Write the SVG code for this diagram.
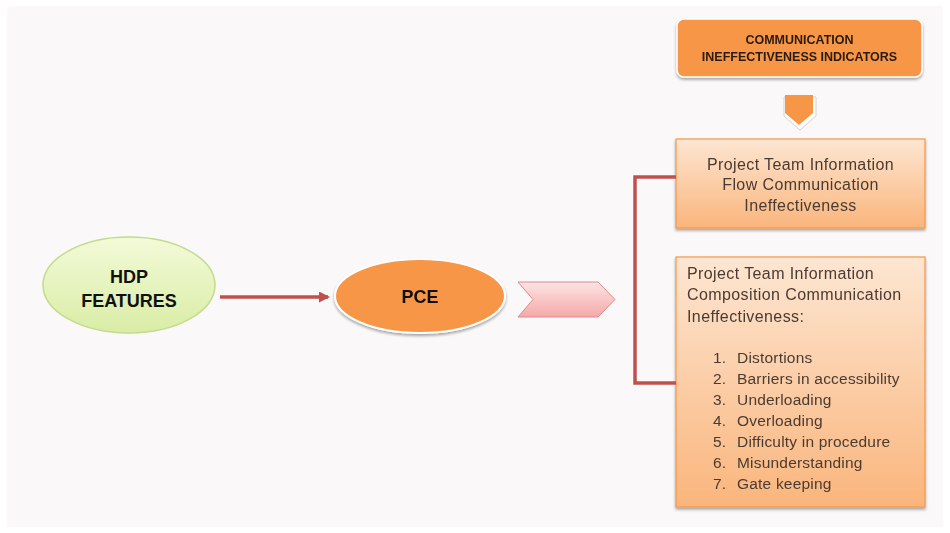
<svg xmlns="http://www.w3.org/2000/svg" width="950" height="533" viewBox="0 0 950 533">
<defs>
<linearGradient id="gGreen" x1="0" y1="0" x2="0" y2="1">
<stop offset="0" stop-color="#f3fad8"/>
<stop offset="1" stop-color="#d9eda6"/>
</linearGradient>
<linearGradient id="gPeach" x1="0" y1="0" x2="0" y2="1">
<stop offset="0" stop-color="#fde6d2"/>
<stop offset="1" stop-color="#fab57c"/>
</linearGradient>
<linearGradient id="gPink" x1="0" y1="0" x2="0" y2="1">
<stop offset="0" stop-color="#fde4e4"/>
<stop offset="1" stop-color="#f5a9a9"/>
</linearGradient>
<filter id="sh" x="-10%" y="-10%" width="120%" height="130%">
<feGaussianBlur in="SourceAlpha" stdDeviation="1.5"/>
<feOffset dx="0" dy="2" result="b"/>
<feComponentTransfer><feFuncA type="linear" slope="0.35"/></feComponentTransfer>
<feMerge><feMergeNode/><feMergeNode in="SourceGraphic"/></feMerge>
</filter>
<marker id="arr" markerWidth="11" markerHeight="11" refX="9" refY="5.5" orient="auto" markerUnits="userSpaceOnUse">
<path d="M0,0 L11,5.5 L0,11 Z" fill="#c0504d"/>
</marker>
</defs>
<style>
.t{font-family:"Liberation Sans",Arial,sans-serif;fill:#4a3b32;font-size:16px;letter-spacing:0.4px}
.li{font-family:"Liberation Sans",Arial,sans-serif;fill:#4a3b32;font-size:15.5px;letter-spacing:0.2px}
.tb{font-family:"Liberation Sans",Arial,sans-serif;font-weight:bold;fill:#111;font-size:18px}
.th{font-family:"Liberation Sans",Arial,sans-serif;font-weight:bold;fill:#2a1a10;font-size:12.5px}
.box{fill:url(#gPeach);stroke:#f79646;stroke-width:1.2}
.con{stroke:#c0504d;stroke-width:3.5;fill:none}
</style>
<rect x="0" y="0" width="950" height="533" fill="#ffffff"/>
<rect x="7" y="6" width="936" height="521" fill="#faf8f8"/>

<g id="indicators" filter="url(#sh)">
<rect x="677" y="19" width="245" height="58" rx="7" fill="#f79646" stroke="#ffffff" stroke-width="1.5"/>
<text class="th" x="799.5" y="44" text-anchor="middle">COMMUNICATION</text>
<text class="th" x="799.5" y="61" text-anchor="middle">INEFFECTIVENESS INDICATORS</text>
</g>

<g id="downarrow">
<path d="M784,97 L816,97 L816,116 L800,130 L784,116 Z" fill="#ffffff" stroke="#d8d0cc" stroke-width="1"/>
<path d="M785,95 L813,95 L813,113 L799,125 L785,113 Z" fill="#f79646"/>
</g>

<g id="box1" filter="url(#sh)">
<rect class="box" x="676" y="139" width="249" height="89"/>
<text class="t" x="800.5" y="170" text-anchor="middle">Project Team Information</text>
<text class="t" x="800.5" y="190" text-anchor="middle">Flow Communication</text>
<text class="t" x="800.5" y="211" text-anchor="middle">Ineffectiveness</text>
</g>

<g id="box2" filter="url(#sh)">
<rect class="box" x="676" y="257" width="249" height="250"/>
<text class="t" x="687" y="279">Project Team Information</text>
<text class="t" x="687" y="300">Composition Communication</text>
<text class="t" x="687" y="322">Ineffectiveness:</text>
<text class="li" x="713" y="363">1.</text><text class="li" x="737" y="363">Distortions</text>
<text class="li" x="713" y="384">2.</text><text class="li" x="737" y="384">Barriers in accessibility</text>
<text class="li" x="713" y="405">3.</text><text class="li" x="737" y="405">Underloading</text>
<text class="li" x="713" y="426">4.</text><text class="li" x="737" y="426">Overloading</text>
<text class="li" x="713" y="447">5.</text><text class="li" x="737" y="447">Difficulty in procedure</text>
<text class="li" x="713" y="468">6.</text><text class="li" x="737" y="468">Misunderstanding</text>
<text class="li" x="713" y="489">7.</text><text class="li" x="737" y="489">Gate keeping</text>
</g>

<g id="hdp">
<ellipse cx="129" cy="285" rx="86" ry="48" fill="url(#gGreen)" stroke="#c4db8c" stroke-width="1.5"/>
<text class="tb" x="129" y="283" text-anchor="middle">HDP</text>
<text class="tb" x="129" y="307" text-anchor="middle">FEATURES</text>
</g>

<g id="pce" filter="url(#sh)">
<ellipse cx="420" cy="296" rx="85" ry="37" fill="#f79646" stroke="#ffffff" stroke-width="2"/>
<text class="tb" x="420" y="303" text-anchor="middle">PCE</text>
</g>

<g id="chevron">
<path d="M518,282 L598,282 L615,299.5 L598,317 L518,317 L533,299.5 Z" fill="url(#gPink)" stroke="#dc8c8c" stroke-width="1"/>
</g>

<g id="connectors">
<line class="con" x1="220" y1="297" x2="328" y2="297" marker-end="url(#arr)"/>
<path class="con" d="M676,177 L635,177 L635,383 L676,383"/>
</g>
</svg>
